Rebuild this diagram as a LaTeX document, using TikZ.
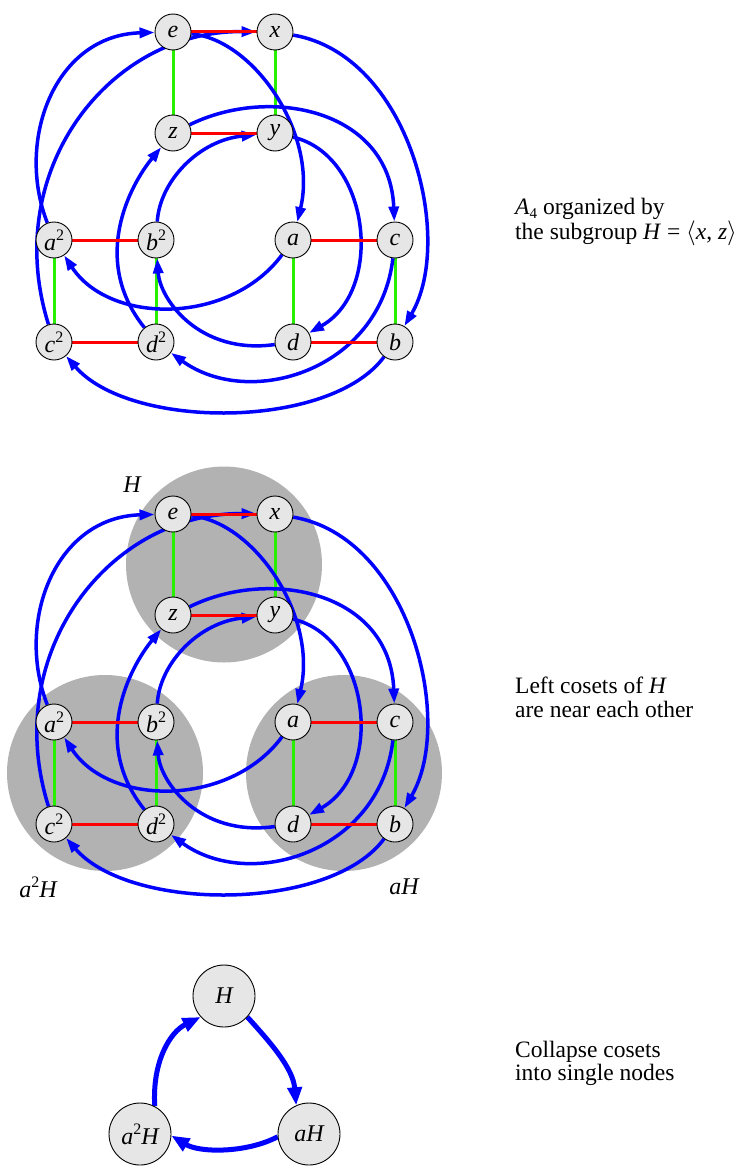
\documentclass[tikz,border=0pt]{standalone}
\usepackage{fontspec}
\setmainfont{Liberation Serif}
\usetikzlibrary{arrows.meta}
\pgfdeclarelayer{bg}
\pgfdeclarelayer{mid}
\pgfsetlayers{bg,mid,main}
\definecolor{nodefill}{RGB}{230,230,230}
\definecolor{cosetgray}{RGB}{178,178,178}
\definecolor{gengreen}{RGB}{40,240,0}
\newcommand\supr[1]{\raisebox{0.42em}{\fontsize{16}{16}\selectfont\upshape #1}}
\newcommand\subr[1]{\raisebox{-0.2em}{\fontsize{15}{15}\selectfont\upshape #1}}
\newcommand\nodefont{\fontsize{24}{26}\selectfont\itshape}
\newcommand\capfont{\fontsize{23.5}{25}\selectfont}
\tikzset{
  vtx/.style={circle, draw=black, line width=0.9pt, fill=nodefill, minimum size=36pt, inner sep=0pt, font=\nodefont},
  bignode/.style={circle, draw=black, line width=0.9pt, fill=nodefill, minimum size=62pt, inner sep=0pt, font=\nodefont},
  redge/.style={draw=red, line width=3pt},
  gedge/.style={draw=gengreen, line width=3pt},
  bedge/.style={draw=blue, line width=3.5pt, -{Triangle[length=15pt,width=10pt]}},
  bigedge/.style={draw=blue, line width=5pt, -{Triangle[length=18pt,width=14pt]}},
  coset/.style={fill=cosetgray, draw=none},
  caption/.style={anchor=base west, inner sep=0pt, font=\capfont},
  lbl/.style={inner sep=0pt, font=\nodefont}
}
\newcommand\cayleygraph[2]{%
\begin{scope}[shift={(0,#2)}]
\node[vtx] (#1e) at (173,32) {e};
\node[vtx] (#1x) at (275,32) {x};
\node[vtx] (#1z) at (173,133) {z};
\node[vtx] (#1y) at (275,133) {y};
\node[vtx] (#1a2) at (54,240) {a\supr{2}};
\node[vtx] (#1b2) at (156,240) {b\supr{2}};
\node[vtx] (#1a) at (293,240) {a};
\node[vtx] (#1c) at (395,240) {c};
\node[vtx] (#1c2) at (54,342) {c\supr{2}};
\node[vtx] (#1d2) at (156,342) {d\supr{2}};
\node[vtx] (#1d) at (293,342) {d};
\node[vtx] (#1b) at (395,342) {b};
\begin{pgfonlayer}{mid}
\draw[gedge] (#1e) -- (#1z);
\draw[gedge] (#1x) -- (#1y);
\draw[gedge] (#1a2) -- (#1c2);
\draw[gedge] (#1b2) -- (#1d2);
\draw[gedge] (#1a) -- (#1d);
\draw[gedge] (#1c) -- (#1b);
\draw[bedge] (#1a2) .. controls (15,140) and (55,35) .. (#1e);
\draw[bedge] (#1c2) .. controls (0,170) and (110,30) .. (#1x);
\draw[bedge] (#1e) .. controls (255,40) and (318,135) .. (#1a);
\draw[bedge] (#1x) .. controls (410,55) and (455,240) .. (#1b);
\draw[bedge] (#1z) .. controls (270,85) and (390,110) .. (#1c);
\draw[bedge] (#1y) .. controls (370,155) and (385,290) .. (#1d);
\draw[bedge] (#1a) .. controls (230,325) and (110,325) .. (#1a2);
\draw[bedge] (#1d) .. controls (200,355) and (160,300) .. (#1b2);
\draw[bedge] (#1c) .. controls (380,370) and (250,410) .. (#1d2);
\draw[bedge] (#1b) .. controls (330,430) and (130,430) .. (#1c2);
\draw[bedge] (#1d2) .. controls (90,260) and (130,185) .. (#1z);
\draw[bedge] (#1b2) .. controls (160,180) and (200,140) .. (#1y);
\draw[redge] (#1e) -- (#1x);
\draw[redge] (#1z) -- (#1y);
\draw[redge] (#1a2) -- (#1b2);
\draw[redge] (#1c2) -- (#1d2);
\draw[redge] (#1a) -- (#1c);
\draw[redge] (#1d) -- (#1b);
\end{pgfonlayer}
\end{scope}}
\begin{document}
\begin{tikzpicture}[x=1pt,y=-1pt]
\path[use as bounding box] (0,0) rectangle (739,1172);
% top: A4 Cayley graph
\cayleygraph{t}{0}
\node[caption] (cap1a) at (515,214) {\textit{A}\subr{4} organized by};
\node[caption] (cap1b) at (515,239) {the subgroup \textit{H} = $\langle$\textit{x}, \textit{z}$\rangle$};
% middle: cosets highlighted
\begin{pgfonlayer}{bg}
\fill[coset] (224,564.5) circle (98);
\fill[coset] (105,773) circle (98);
\fill[coset] (344,773) circle (98);
\end{pgfonlayer}
\cayleygraph{m}{482}
\node[lbl] (lH) at (132,485) {H};
\node[lbl] (la2H) at (38,887) {a\supr{2}H};
\node[lbl] (laH) at (404,887) {aH};
\node[caption] (cap2a) at (515,693) {Left cosets of \textit{H}};
\node[caption] (cap2b) at (515,717) {are near each other};
% bottom: quotient
\node[bignode] (qH) at (224,996) {H};
\node[bignode] (qa2H) at (140,1134) {a\supr{2}H};
\node[bignode] (qaH) at (309,1134) {aH};
\begin{pgfonlayer}{mid}
\draw[bigedge] (qH.-42) .. controls (270,1042) and (293,1068) .. (qaH.114);
\draw[bigedge] (qaH.185) .. controls (247,1153) and (200,1153) .. (qa2H.-3);
\draw[bigedge] (qa2H.62) .. controls (152,1062) and (170,1032) .. (qH.222);
\end{pgfonlayer}
\node[caption] (cap3a) at (515,1057) {Collapse cosets};
\node[caption] (cap3b) at (515,1080) {into single nodes};
\end{tikzpicture}
\end{document}
